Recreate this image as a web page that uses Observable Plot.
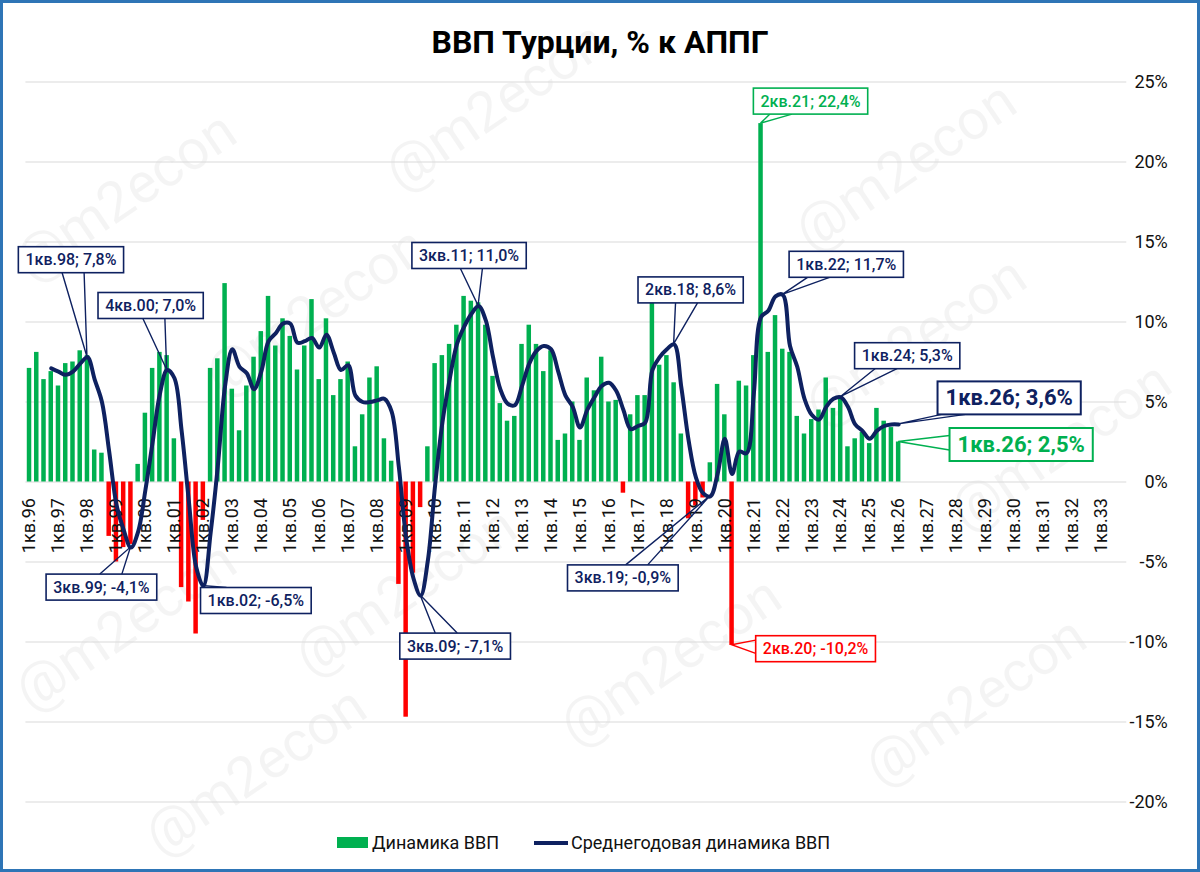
<!DOCTYPE html>
<html><head><meta charset="utf-8">
<script src="https://cdn.jsdelivr.net/npm/d3@7"></script>
<script src="https://cdn.jsdelivr.net/npm/@observablehq/plot@0.6"></script>
<style>
html,body{margin:0;padding:0;background:#fff;}
#wrap{position:relative;width:1200px;height:872px;overflow:hidden;background:#fff;font-family:Roboto,"Noto Sans",sans-serif;}
#chart{position:absolute;left:0;top:0;}
#title{position:absolute;left:0;top:25px;width:1200px;text-align:center;font-size:32px;line-height:34px;font-weight:700;color:#000;}
.lg{position:absolute;font-size:18px;line-height:20px;color:#111;white-space:nowrap;}
#frame{position:absolute;left:0;top:0;width:1200px;height:872px;box-sizing:border-box;border:3px solid #2e75b6;pointer-events:none;}
</style></head>
<body>
<div id="wrap">
  <div id="chart"></div>
  <div id="title">ВВП Турции, % к АППГ</div>
  <div id="legend"></div>
  <div id="frame"></div>
</div>
<script>
// ---- categories: quarters 1кв.96 ... 4кв.33
const years = d3.range(1996, 2034);
const quarters = [];
years.forEach(y => { for (let q = 1; q <= 4; q++) quarters.push(q + "кв." + String(y % 100).padStart(2, "0")); });
const tickLabels = years.map(y => "1кв." + String(y % 100).padStart(2, "0"));
const yTicks = [-20, -15, -10, -5, 0, 5, 10, 15, 20, 25];

// ---- GDP growth, % y/y (1кв.96 ... 1кв.26)
const gdp = [
  7.1, 8.1, 6.4, 6.9,
  6.0, 7.4, 7.5, 8.2,
  7.9, 2.0, 1.8, -3.4,
  -5.0, -4.1, -3.9, 1.1,
  4.3, 7.1, 8.1, 7.9,
  2.7, -6.6, -7.5, -9.5,
  -2.4, 7.1, 7.7, 12.4,
  5.8, 3.2, 6.0, 7.8,
  9.4, 11.6, 8.5, 10.2,
  9.1, 7.0, 8.5, 11.4,
  6.4, 10.2, 5.4, 6.4,
  7.5, 2.2, 4.2, 6.5,
  7.2, 2.7, 1.3, -6.4,
  -14.7, -5.7, -1.6, 2.2,
  7.4, 7.9, 8.6, 9.8,
  11.6, 11.3, 11.2, 9.8,
  6.6, 4.9, 3.8, 4.1,
  8.6, 9.8, 8.6, 6.9,
  8.2, 2.6, 3.0, 5.0,
  2.6, 6.5, 5.7, 7.8,
  5.0, 5.1, -0.7, 4.2,
  5.4, 5.4, 12.6, 7.3,
  7.9, 6.2, 3.0, -2.3,
  -1.5, -1.0, 1.2, 6.1,
  4.2, -10.2, 6.3, 6.0,
  7.9, 22.4, 8.1, 10.4,
  8.3, 8.1, 4.1, 3.0,
  3.9, 4.5, 6.5, 4.6,
  5.3, 2.2, 2.7, 3.1,
  2.4, 4.6, 3.8, 3.4,
  2.5
];

// ---- average annual growth, %
const avg = [
  null, null, null, 7.1,
  6.9, 6.7, 6.9, 7.4,
  7.8, 6.4, 5.0, 1.9,
  -1.4, -3.0, -4.1, -3.1,
  -0.5, 2.5, 5.5, 7.0,
  6.5, 3.2, -1.2, -5.3,
  -6.5, -3.2, 1.0, 6.0,
  8.3, 7.2, 6.8, 5.8,
  6.9, 8.8, 9.3, 9.9,
  9.9, 8.7, 8.8, 9.0,
  8.4, 9.2, 8.1, 7.0,
  7.3, 5.4, 5.0, 5.0,
  5.1, 5.2, 4.4, 0.9,
  -3.5, -6.0, -7.1, -4.9,
  -0.2, 3.7, 6.4, 8.6,
  9.7, 10.5, 11.0, 10.1,
  7.8, 5.8, 4.9, 4.8,
  6.0, 7.4, 8.2, 8.5,
  8.3, 6.9, 5.4, 4.7,
  3.4, 4.5, 5.3, 6.0,
  6.2, 5.7, 4.5, 3.3,
  3.5, 3.7, 7.0, 7.8,
  8.3, 8.6, 5.9, 2.6,
  0.3, -0.7, -0.9, 0.5,
  2.7, 0.5, 1.9, 1.8,
  5.5, 10.3, 10.7, 11.6,
  11.7, 8.5, 7.2, 5.2,
  4.2, 3.9, 4.7, 5.2,
  5.3, 4.7, 3.6, 3.2,
  2.7, 3.2, 3.5, 3.6,
  3.6
];

// ---- callouts: which point, which series
const callouts = [
  {q: "1кв.98", series: "avg"},
  {q: "4кв.00", series: "avg"},
  {q: "3кв.99", series: "avg"},
  {q: "1кв.02", series: "avg"},
  {q: "3кв.11", series: "avg"},
  {q: "3кв.09", series: "avg"},
  {q: "2кв.18", series: "avg"},
  {q: "3кв.19", series: "avg"},
  {q: "2кв.21", series: "gdp"},
  {q: "2кв.20", series: "gdp"},
  {q: "1кв.22", series: "avg"},
  {q: "1кв.24", series: "avg"},
  {q: "1кв.26", series: "avg", big: true},
  {q: "1кв.26", series: "gdp", big: true}
];
// layout of the callout boxes (offset of box centre from the point, px)
const calloutOffsets = [
  [-16, -97], [-16, -64], [-29, 40], [53, 15], [-9, -50], [35, 51], [17, -54],
  [-87, 82], [50, -22], [84, 4], [64, -30], [67, -41], [111, -26], [123, 3]
];

const GREEN = "#00b050", RED = "#ff0000", NAVY = "#0e2160";

const bars = gdp.map((v, i) => ({q: quarters[i], v}));
const line = avg.map((v, i) => ({q: quarters[i], v})).filter(d => d.v !== null);

const W = 1200, H = 830;
const plot = Plot.plot({
  width: W, height: H,
  marginLeft: 25.4, marginRight: 73.7, marginTop: 81.5, marginBottom: 28.5,
  style: {fontFamily: "Roboto, 'Noto Sans', sans-serif", background: "transparent", overflow: "visible"},
  x: {type: "band", domain: quarters, paddingInner: 0.38, paddingOuter: 0.19, axis: null},
  y: {domain: [-20, 25], axis: null},
  marks: [
    Plot.ruleY(yTicks, {stroke: "#d9d9d9", strokeWidth: 1.2}),
    Plot.barY(bars.filter(d => d.v >= 0), {x: "q", y: "v", fill: GREEN}),
    Plot.barY(bars.filter(d => d.v < 0), {x: "q", y: "v", fill: RED}),
    Plot.text(tickLabels, {x: d => d, y: () => 0, text: d => d, rotate: -90, textAnchor: "end",
      dy: 16, fontSize: 18, fill: "#111"}),
    Plot.line(line, {x: "q", y: "v", stroke: NAVY, strokeWidth: 4, curve: "catmull-rom"}),
    Plot.text(yTicks, {y: d => d, text: d => d + "%", frameAnchor: "right", textAnchor: "end",
      dx: 41, fontSize: 18, fill: "#111"})
  ]
});
document.getElementById("chart").appendChild(plot);

const svg = d3.select(plot);
const xs = plot.scale("x"), ys = plot.scale("y");
const px = q => xs.apply(q) + xs.bandwidth / 2;
const py = v => ys.apply(v);

// watermarks (behind everything)
const wm = [[495,105],[905,165],[125,195],[315,310],[915,340],[1060,445],[405,590],[125,625],[670,660],[975,700],[255,770]];
const wmg = svg.insert("g", ":first-child");
wm.forEach(([x, y]) => {
  wmg.append("text").attr("transform", `translate(${x},${y}) rotate(-34)`)
    .attr("text-anchor", "middle").attr("dominant-baseline", "central")
    .attr("font-size", 56).attr("fill", "#000").attr("fill-opacity", 0.045)
    .attr("font-family", "Roboto, sans-serif").text("@m2econ");
});

// callouts
const fmt = v => v.toFixed(1).replace(".", ",") + "%";
callouts.forEach((c, i) => {
  const idx = quarters.indexOf(c.q);
  const v = c.series === "avg" ? avg[idx] : gdp[idx];
  const color = c.series === "avg" ? NAVY : (v < 0 ? RED : GREEN);
  const label = c.q + "; " + fmt(v);
  const tx = px(c.q), ty = py(v);
  const [ox, oy] = calloutOffsets[i];
  const bx = tx + ox, by = ty + oy;
  const fs = c.big ? 22 : 16;
  const g = svg.append("g");
  const t = g.append("text").attr("x", bx).attr("y", by)
    .attr("text-anchor", "middle").attr("dominant-baseline", "central")
    .attr("font-size", fs).attr("font-weight", c.big ? 700 : 500)
    .attr("fill", color).attr("font-family", "Roboto, sans-serif").text(label);
  const bb = t.node().getBBox();
  const w = bb.width + (c.big ? 16 : 14), h = c.big ? 33 : 26;
  const x0 = bx - w / 2, y0 = by - h / 2;
  // wedge
  const dx = tx - bx, dy = ty - by;
  const tX = dx === 0 ? Infinity : (w / 2) / Math.abs(dx);
  const tY = dy === 0 ? Infinity : (h / 2) / Math.abs(dy);
  const b = c.big ? 12 : 11;
  let p1, p2;
  if (tX < tY) {
    const ex = bx + Math.sign(dx) * w / 2;
    let ey = by + dy * tX;
    ey = Math.max(y0 + b, Math.min(y0 + h - b, ey));
    p1 = [ex, Math.max(y0 + 2, ey - b * 0.6)]; p2 = [ex, Math.min(y0 + h - 2, ey + b * 0.6)];
  } else {
    const ey = by + Math.sign(dy) * h / 2;
    let ex = bx + dx * tY;
    ex = Math.max(x0 + b + 4, Math.min(x0 + w - b - 4, ex));
    p1 = [ex - b, ey]; p2 = [ex + b, ey];
  }
  g.insert("path", "text").attr("d", `M${p1[0]},${p1[1]}L${tx},${ty}L${p2[0]},${p2[1]}`)
    .attr("fill", "none").attr("stroke", color).attr("stroke-width", 1.4);
  g.insert("rect", "text").attr("x", x0).attr("y", y0).attr("width", w).attr("height", h)
    .attr("fill", "#fff").attr("stroke", color).attr("stroke-width", c.big ? 2 : 1.6);
});

// legend
const lg = document.getElementById("legend");
lg.innerHTML = `
  <div style="position:absolute;left:337px;top:837px;width:31px;height:11px;background:${GREEN}"></div>
  <div class="lg" style="left:372px;top:833px">Динамика ВВП</div>
  <div style="position:absolute;left:534px;top:841px;width:34px;height:3.5px;background:${NAVY}"></div>
  <div class="lg" style="left:571px;top:833px">Среднегодовая динамика ВВП</div>`;
</script>
</body></html>
